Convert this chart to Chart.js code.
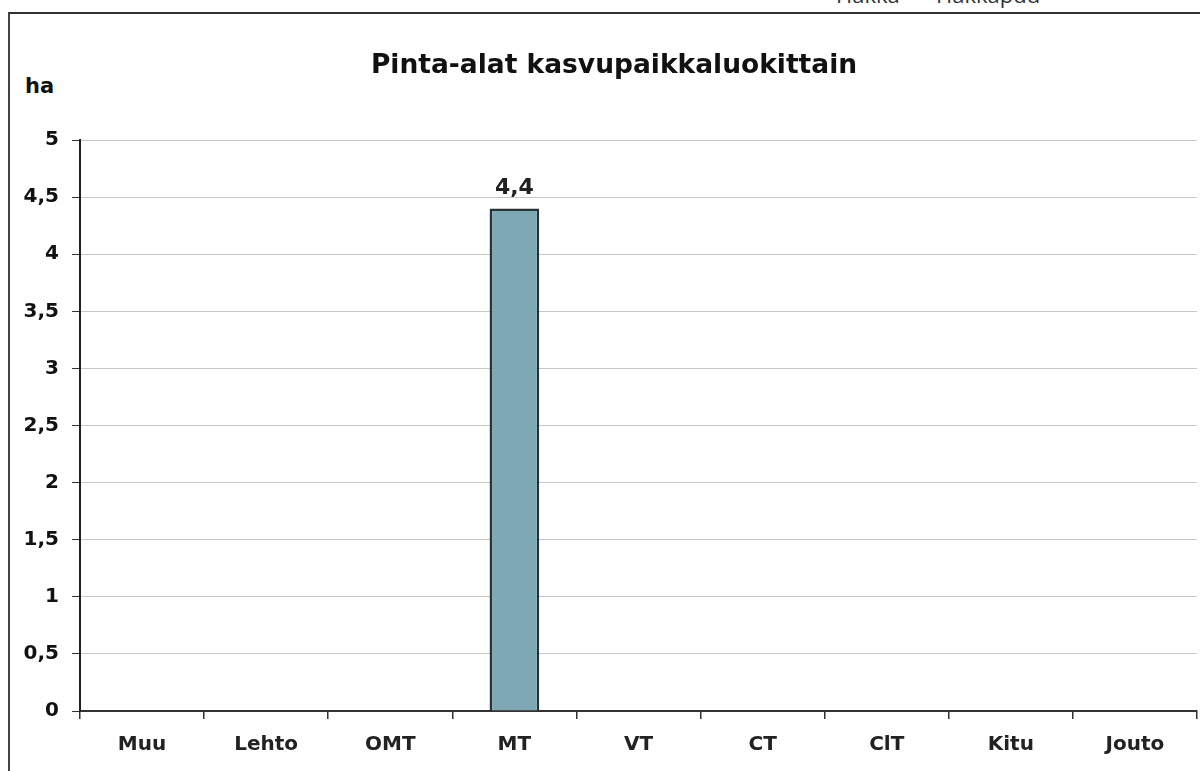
<!DOCTYPE html>
<html><head><meta charset="utf-8">
<script src="https://cdn.jsdelivr.net/npm/chart.js@4.4.1/dist/chart.umd.min.js"></script>
<style>
html,body{margin:0;padding:0;background:#fff;width:1200px;height:771px;overflow:hidden;}
#wrap{position:absolute;left:0;top:0;width:1200px;height:771px;}
#frame{position:absolute;left:8px;top:12px;width:1200px;height:800px;border-left:2px solid #444;border-top:2px solid #333;}
.hdr{position:absolute;top:-21px;font-family:"Open Sans",sans-serif;font-size:22px;color:#333;white-space:nowrap;}
#unit{position:absolute;left:25px;top:74px;font-family:"DejaVu Sans",sans-serif;font-weight:bold;font-size:21px;color:#111;}
canvas{position:absolute;left:0;top:0;}
</style></head>
<body>
<div id="wrap">
<div id="frame"></div>
<div class="hdr" style="left:836px">Hakka</div>
<div class="hdr" style="left:936px">Hakkapuu</div>
<div id="unit">ha</div>
<canvas id="c" width="1200" height="771"></canvas>
</div>
<script>
const categories = ["Muu","Lehto","OMT","MT","VT","CT","ClT","Kitu","Jouto"];
const areas = [0,0,0,4.4,0,0,0,0,0];
const yTicks = [0,0.5,1,1.5,2,2.5,3,3.5,4,4.5,5];
const titleText = "Pinta-alat kasvupaikkaluokittain";

const fmt = v => String(v).replace('.', ',');

const labelPlugin = {
  id:'barLabels',
  afterDatasetsDraw(chart){
    const ctx = chart.ctx;
    const meta = chart.getDatasetMeta(0);
    ctx.save();
    ctx.font = 'bold 22px "DejaVu Sans"';
    ctx.fillStyle = '#222';
    ctx.textAlign = 'center';
    ctx.textBaseline = 'middle';
    meta.data.forEach((el,i)=>{
      if(areas[i]>0){ ctx.fillText(fmt(areas[i]), el.x, el.y-20); }
    });
    // chart title
    ctx.font = 'bold 26.5px "DejaVu Sans"';
    ctx.fillStyle = '#111';
    ctx.fillText(titleText, 614, 66);
    ctx.restore();
  }
};

new Chart(document.getElementById('c'),{
  type:'bar',
  data:{labels:categories,datasets:[{data:areas,backgroundColor:'#7ea8b3',borderColor:'#263236',borderWidth:2.5,barPercentage:0.4,categoryPercentage:1}]},
  options:{
    responsive:false,animation:false,
    layout:{padding:{left:0,right:3,top:140,bottom:0}},
    plugins:{
      legend:{display:false},tooltip:{enabled:false},title:{display:false}
    },
    scales:{
      x:{
        offset:true,
        grid:{display:true,drawOnChartArea:false,drawTicks:true,tickLength:8,tickColor:'#333',offset:true,lineWidth:1.5},
        border:{display:true,color:'#333',width:2},
        ticks:{color:'#222',font:{family:'"DejaVu Sans"',weight:'bold',size:20},padding:14,maxRotation:0},
        afterFit(s){s.height=60;}
      },
      y:{
        min:0,max:5,
        afterBuildTicks(s){s.ticks=yTicks.map(v=>({value:v}));},
        grid:{color:'#c8c8c8',lineWidth:1,drawTicks:true,tickLength:8,tickColor:'#333'},
        border:{display:true,color:'#222',width:2},
        ticks:{color:'#111',font:{family:'"DejaVu Sans"',weight:'bold',size:20},padding:13,callback:v=>fmt(v)},
        afterFit(s){s.width=80;}
      }
    }
  },
  plugins:[labelPlugin]
});
</script>
</body></html>
